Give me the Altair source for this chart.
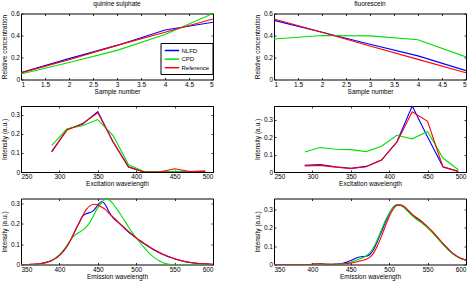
import altair as alt
import pandas as pd

series = ["NLFD", "CPD", "Reference"]
colors = ["#0000ff", "#00e000", "#ff0000"]

# ---- top row: relative concentration vs sample number ----
sample_number = [1, 2, 3, 4, 5]
qs_conc_nlfd = [0.064, 0.19, 0.31, 0.45, 0.52]
qs_conc_cpd = [0.05, 0.155, 0.265, 0.41, 0.60]
qs_conc_ref = [0.06, 0.18, 0.31, 0.43, 0.55]

fl_conc_nlfd = [0.538, 0.43, 0.32, 0.215, 0.08]
fl_conc_cpd = [0.368, 0.40, 0.397, 0.362, 0.205]
fl_conc_ref = [0.55, 0.43, 0.305, 0.183, 0.061]

# ---- middle row: excitation spectra ----
exc_wl = [290, 310, 330, 350, 370, 390, 410, 430, 450, 470, 490]
qs_exc_nlfd = [0.105, 0.222, 0.25, 0.316, 0.155, 0.027, 0.0, 0.0, 0.003, 0.0, 0.003]
qs_exc_cpd = [0.139, 0.226, 0.242, 0.274, 0.19, 0.038, 0.003, 0.0, 0.003, 0.0, 0.0]
qs_exc_ref = [0.108, 0.22, 0.253, 0.31, 0.158, 0.025, 0.001, 0.0, 0.017, 0.002, 0.006]

fl_exc_nlfd = [0.038, 0.042, 0.03, 0.021, 0.032, 0.068, 0.173, 0.378, 0.2, 0.03, 0.004]
fl_exc_cpd = [0.115, 0.14, 0.13, 0.128, 0.117, 0.148, 0.21, 0.19, 0.232, 0.08, 0.013]
fl_exc_ref = [0.035, 0.038, 0.028, 0.02, 0.03, 0.068, 0.17, 0.345, 0.29, 0.028, 0.002]

# ---- bottom row: emission spectra ----
em_wl = [350, 355, 360, 365, 370, 375, 380, 385, 390, 395,
         400, 405, 410, 415, 420, 425, 430, 435, 440, 445,
         450, 455, 460, 465, 470, 475, 480, 485, 490, 495,
         500, 505, 510, 515, 520, 525, 530, 535, 540, 545,
         550, 555, 560, 565, 570, 575, 580, 585, 590, 595, 600]

qs_em_ref = [0, 0, 0, 0.001, 0.002, 0.004, 0.008, 0.013, 0.02, 0.03,
             0.045, 0.065, 0.09, 0.123, 0.163, 0.2, 0.238, 0.27, 0.29, 0.297,
             0.293, 0.283, 0.27, 0.25, 0.233, 0.215, 0.198, 0.18, 0.163, 0.147,
             0.132, 0.118, 0.105, 0.093, 0.081, 0.07, 0.06, 0.051, 0.043, 0.036,
             0.029, 0.023, 0.018, 0.014, 0.011, 0.008, 0.006, 0.004, 0.003, 0.002, 0.001]
qs_em_nlfd = [0, 0, 0, 0.001, 0.002, 0.004, 0.008, 0.013, 0.02, 0.03,
              0.045, 0.065, 0.09, 0.123, 0.163, 0.2, 0.237, 0.25, 0.256, 0.268,
              0.293, 0.31, 0.293, 0.256, 0.23, 0.212, 0.195, 0.177, 0.16, 0.145,
              0.13, 0.116, 0.103, 0.091, 0.079, 0.068, 0.058, 0.049, 0.041, 0.034,
              0.028, 0.022, 0.017, 0.013, 0.01, 0.007, 0.005, 0.004, 0.003, 0.002, 0.001]
qs_em_cpd = [0, 0, 0, 0, 0.001, 0.002, 0.006, 0.012, 0.02, 0.032,
             0.048, 0.07, 0.095, 0.122, 0.143, 0.157, 0.168, 0.185, 0.21, 0.245,
             0.28, 0.305, 0.322, 0.318, 0.298, 0.272, 0.245, 0.215, 0.185, 0.157,
             0.131, 0.107, 0.085, 0.064, 0.045, 0.03, 0.018, 0.009, 0.003, 0.0,
             0, 0, 0, 0, 0, 0, 0, 0, 0, 0, 0]

fl_em_nlfd = [0, 0, 0, 0, 0, 0, 0, 0, 0, 0,
              0.001, 0.003, 0.004, 0.002, 0.001, 0.001, 0.002, 0.004, 0.007, 0.013,
              0.022, 0.032, 0.04, 0.043, 0.045, 0.056, 0.085, 0.13, 0.18, 0.23,
              0.275, 0.31, 0.325, 0.322, 0.31, 0.29, 0.27, 0.252, 0.238, 0.222,
              0.203, 0.183, 0.16, 0.136, 0.112, 0.09, 0.07, 0.053, 0.04, 0.03, 0.024]
fl_em_cpd = [0, 0, 0, 0, 0, 0, 0, 0, 0, 0,
             0, 0.001, 0.002, 0.001, 0.001, 0.001, 0.001, 0.002, 0.004, 0.007,
             0.012, 0.02, 0.028, 0.036, 0.048, 0.065, 0.095, 0.14, 0.19, 0.24,
             0.28, 0.312, 0.326, 0.322, 0.308, 0.287, 0.266, 0.248, 0.234, 0.218,
             0.2, 0.18, 0.157, 0.133, 0.11, 0.088, 0.068, 0.052, 0.039, 0.03, 0.024]
fl_em_ref = [0, 0, 0, 0, 0, 0, 0, 0, 0, 0,
             0.001, 0.003, 0.004, 0.002, 0.001, 0.0, 0.001, 0.001, 0.002, 0.005,
             0.008, 0.012, 0.017, 0.022, 0.028, 0.04, 0.065, 0.105, 0.155, 0.21,
             0.26, 0.3, 0.322, 0.325, 0.315, 0.295, 0.275, 0.258, 0.243, 0.226,
             0.207, 0.186, 0.163, 0.139, 0.115, 0.093, 0.072, 0.055, 0.041, 0.031, 0.025]


def long_df(x, cols):
    rows = []
    for name, vals in zip(series, cols):
        for xv, yv in zip(x, vals):
            rows.append({"x": xv, "y": yv, "series": name})
    return pd.DataFrame(rows)


FONT = "Liberation Sans"
W, H = 192, 66
FMT = ".4~g"


def panel(df, xdomain, xticks, ydomain, yticks, xtitle, ytitle,
          title=None, legend=False, interp="linear"):
    if legend:
        leg = alt.Legend(title=None, orient="none", legendX=139.5, legendY=29.5,
                         symbolType="M-0.8,0H2.8", symbolSize=64, symbolStrokeWidth=1.5,
                         labelFontSize=6, labelFont=FONT, labelColor="black",
                         padding=2.5, strokeColor="black", fillColor="white",
                         rowPadding=0.6, labelOffset=8.5, cornerRadius=0)
    else:
        leg = None
    xscale = alt.Scale(domain=xdomain, nice=False, zero=False)
    yscale = alt.Scale(domain=ydomain, nice=False, zero=False)
    lines = alt.Chart(df).mark_line(strokeWidth=1.1, clip=True, interpolate=interp).encode(
        x=alt.X("x:Q", scale=xscale,
                axis=alt.Axis(orient="bottom", values=xticks, format=FMT, title=xtitle,
                              offset=-2, tickSize=2, labelPadding=1.5, titlePadding=0.5,
                              domain=False, grid=False)),
        y=alt.Y("y:Q", scale=yscale,
                axis=alt.Axis(orient="left", values=yticks, format=FMT, title=ytitle,
                              offset=-2, tickSize=2, labelPadding=1.5, titlePadding=3,
                              domain=False, grid=False)),
        color=alt.Color("series:N",
                        scale=alt.Scale(domain=series, range=colors),
                        sort=series, legend=leg),
    )
    ticks = alt.Chart(df).mark_line(opacity=0).encode(
        x=alt.X("x:Q", scale=xscale,
                axis=alt.Axis(orient="top", values=xticks, labels=False, title=None,
                              offset=-2, tickSize=2, domain=False, grid=False)),
        y=alt.Y("y:Q", scale=yscale,
                axis=alt.Axis(orient="right", values=yticks, labels=False, title=None,
                              offset=-2, tickSize=2, domain=False, grid=False)),
    )
    ch = alt.layer(lines, ticks).resolve_axis(x="independent", y="independent")
    if title:
        ch = ch.properties(width=W, height=H,
                           title=alt.TitleParams(title, fontSize=6.5, font=FONT,
                                                 fontWeight="normal", offset=3))
    else:
        ch = ch.properties(width=W, height=H)
    return ch


tl = panel(long_df(sample_number, [qs_conc_nlfd, qs_conc_cpd, qs_conc_ref]),
           [1, 5], [1, 1.5, 2, 2.5, 3, 3.5, 4, 4.5, 5], [0, 0.6], [0, 0.2, 0.4, 0.6],
           "Sample number", "Relative concentration", title="quinine sulphate", legend=True)
tr = panel(long_df(sample_number, [fl_conc_nlfd, fl_conc_cpd, fl_conc_ref]),
           [1, 5], [1, 1.5, 2, 2.5, 3, 3.5, 4, 4.5, 5], [0, 0.6], [0, 0.2, 0.4, 0.6],
           "Sample number", "Relative concentration", title="fluorescein")
ml = panel(long_df(exc_wl, [qs_exc_nlfd, qs_exc_cpd, qs_exc_ref]),
           [250, 500], [250, 300, 350, 400, 450, 500], [0, 0.345], [0, 0.1, 0.2, 0.3],
           "Excitation wavelength", "Intensity (a.u.)")
mr = panel(long_df(exc_wl, [fl_exc_nlfd, fl_exc_cpd, fl_exc_ref]),
           [250, 500], [250, 300, 350, 400, 450, 500], [0, 0.378], [0, 0.1, 0.2, 0.3],
           "Excitation wavelength", "Intensity (a.u.)")
bl = panel(long_df(em_wl, [qs_em_nlfd, qs_em_cpd, qs_em_ref]),
           [350, 600], [350, 400, 450, 500, 550, 600], [0, 0.325], [0, 0.1, 0.2, 0.3],
           "Emission wavelength", "Intensity (a.u.)", interp="monotone")
br = panel(long_df(em_wl, [fl_em_nlfd, fl_em_cpd, fl_em_ref]),
           [350, 600], [350, 400, 450, 500, 550, 600], [0, 0.36], [0, 0.1, 0.2, 0.3],
           "Emission wavelength", "Intensity (a.u.)", interp="monotone")


chart = alt.concat(tl, tr, ml, mr, bl, br, columns=2,
                   spacing={"row": 26.5, "column": 61},
                   bounds="flush").resolve_scale(color="independent").properties(
    padding={"left": 0, "top": 0.5, "right": 2, "bottom": 2},
    background="white",
).configure_view(stroke="black", strokeWidth=1).configure_axis(
    labelFont=FONT, titleFont=FONT, labelFontSize=6.5, titleFontSize=6.5,
    labelColor="black", titleColor="black", titleFontWeight="normal",
    tickColor="black", tickWidth=0.8,
)

chart.save("out.html", embed_options={"renderer": "svg", "actions": False})
